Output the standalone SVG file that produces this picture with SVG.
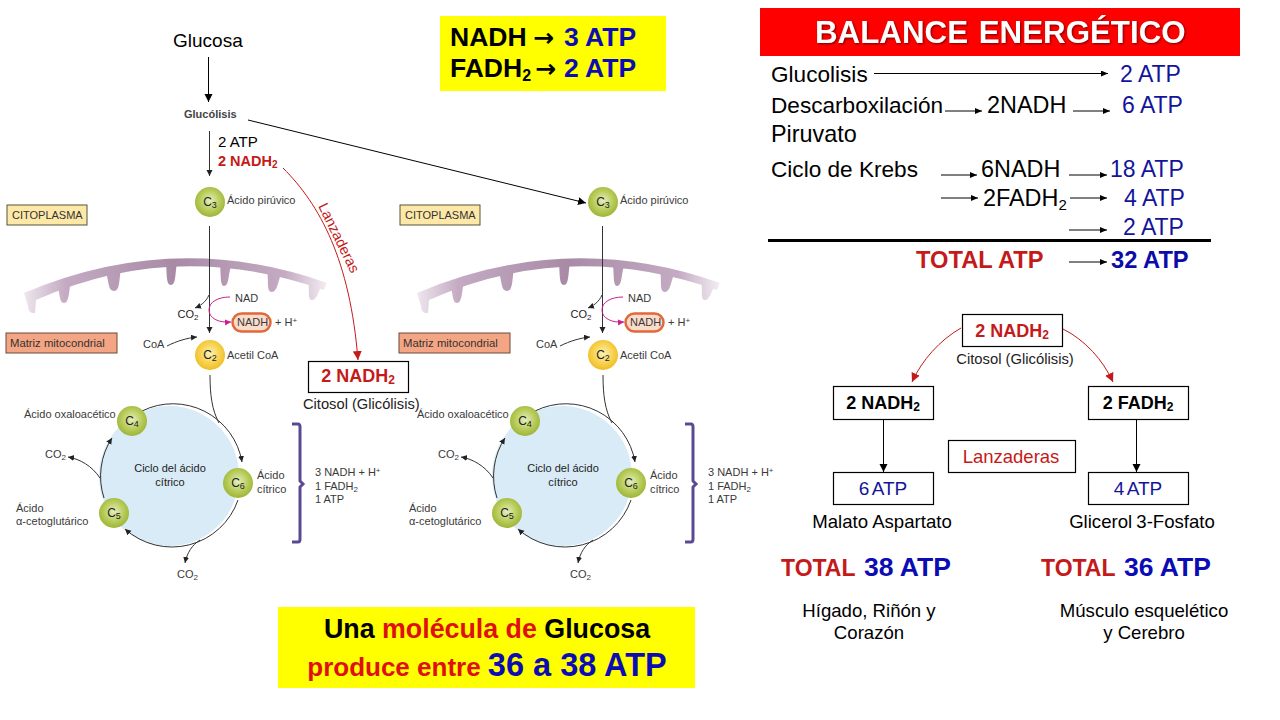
<svg xmlns="http://www.w3.org/2000/svg" width="1280" height="720" viewBox="0 0 1280 720">
<style>
text{font-family:"Liberation Sans",Arial,sans-serif;fill:#000}
.s{font-size:11px;fill:#3a3a3a}
.m{font-size:11px;fill:#333}
.mt{font-size:11.300px;fill:#333}
.c{font-size:11px;fill:#222;text-anchor:middle}
.n{font-size:12px;fill:#222;text-anchor:middle}
.row{font-size:22.600px}
.rw2{font-size:23.400px}
.atp{font-size:23px;fill:#14149a}
.ttl{font-size:23.700px;font-weight:bold}
.red{fill:#c41a1a}
.blue{fill:#0c0cb4}
.b{font-weight:bold}
.mid{text-anchor:middle}
.box{fill:#fff;stroke:#000;stroke-width:1.2}
.ln{fill:none;stroke:#000;stroke-width:1}
.thin{fill:none;stroke:#333;stroke-width:1}
.rd{fill:none;stroke:#c41a1a;stroke-width:1}
.a{marker-end:url(#ah)}
.k{marker-end:url(#ahk)}
.as{marker-end:url(#ahs)}
.ar{marker-end:url(#ahr)}
</style>
<defs>
<marker id="ah" markerUnits="userSpaceOnUse" markerWidth="10" markerHeight="10" refX="8" refY="4" orient="auto"><path d="M0,0 L8,4 L0,8 Z" fill="#000"/></marker>
<marker id="ahk" markerUnits="userSpaceOnUse" markerWidth="8" markerHeight="8" refX="7" refY="3" orient="auto"><path d="M0,0 L7,3 L0,6 Z" fill="#000"/></marker>
<marker id="ahs" markerUnits="userSpaceOnUse" markerWidth="8" markerHeight="8" refX="6" refY="3" orient="auto"><path d="M0,0 L6,3 L0,6 Z" fill="#222"/></marker>
<marker id="ahp" markerUnits="userSpaceOnUse" markerWidth="8" markerHeight="8" refX="6" refY="3" orient="auto"><path d="M0,0 L6,3 L0,6 Z" fill="#c8208c"/></marker>
<marker id="ahr" markerUnits="userSpaceOnUse" markerWidth="12" markerHeight="12" refX="9" refY="4.500" orient="auto"><path d="M0,0 L9,4.500 L0,9 Z" fill="#c41a1a"/></marker>
<radialGradient id="gGreen" cx="50%" cy="45%" r="55%"><stop offset="0" stop-color="#e6eec0"/><stop offset=".55" stop-color="#bccf62"/><stop offset="1" stop-color="#9db534"/></radialGradient>
<radialGradient id="gYellow" cx="50%" cy="45%" r="55%"><stop offset="0" stop-color="#fdf2b8"/><stop offset=".55" stop-color="#f8d558"/><stop offset="1" stop-color="#f0bd22"/></radialGradient>
<linearGradient id="gMem" gradientUnits="userSpaceOnUse" x1="22" y1="0" x2="328" y2="0"><stop offset="0" stop-color="#f0e9f0"/><stop offset=".14" stop-color="#c4abc3"/><stop offset=".5" stop-color="#a88aa6"/><stop offset=".86" stop-color="#c4abc3"/><stop offset="1" stop-color="#f4eff4"/></linearGradient>
<g id="membrane" fill="url(#gMem)">
<path d="M24,293 Q175,229 327,283 L324,290 Q175,238 36,300 L35,313 Q28,314 28,306 Z"/>
<path d="M57,284 C60,292 59,303 64,303 C69,303 69,292 71,279 Z"/>
<path d="M106,272 C109,282 108,291 114,291 C120,291 119,280 121,268 Z"/>
<path d="M166,264 C167,274 166,285 171,285 C176,285 175,274 177,263 Z"/>
<path d="M220,264 C221,274 220,286 224,286 C229,286 228,276 231,266 Z"/>
<path d="M267,270 C269,280 266,292 272,292 C277,292 278,282 281,274 Z"/>
<path d="M308,280 C310,290 307,300 312,300 C317,300 318,292 322,285 Z"/>
</g>
<!-- Mitochondrial panel artwork shared by both panels -->
<g id="panelArt">
<rect x="7" y="205" width="80" height="20" fill="#fde8a8" stroke="#55553a"/>
<rect x="6" y="333" width="111" height="20" fill="#f4a584" stroke="#6a4a3a"/>
<use href="#membrane"/>
<circle cx="169" cy="476" r="70" fill="#d8ebf6"/>
<path class="thin" d="M142,411 A70,70 0 0 1 242,462" style="marker-end:url(#ahs)"/>
<path class="thin" d="M238,500 A70,70 0 0 1 125,529" style="marker-end:url(#ahs)"/>
<path class="thin" d="M104,498 A70,70 0 0 1 112,438" style="marker-end:url(#ahs)"/>
<path class="thin" d="M210,375 C210,395 212,410 219,423"/>
<path class="thin as" d="M209.500,226 V333"/>
<path class="thin as" d="M209,295 C206,302 200,306 195,308"/>
<path class="thin as" d="M167,346 C177,341 187,338 197,337"/>
<path class="thin as" d="M100,478 C92,466 80,459 68,457"/>
<path class="thin as" d="M200,540 C192,545 187,553 185,563"/>
<path fill="none" stroke="#c8208c" stroke-width="1" marker-end="url(#ahp)" d="M230,297 C218,297 209,302 209,310 C209,318 218,323 231,322"/>
<rect x="232.500" y="313.500" width="38" height="18" rx="9" fill="#fbdccb" stroke="#e0683a" stroke-width="2.500"/>
<path fill="none" stroke="#5a4a94" stroke-width="3" d="M292,424 H298 Q300,424 300,427 V481 L303,484 L300,487 V539 Q300,542 298,542 H292"/>
<circle cx="210" cy="202" r="15" fill="url(#gGreen)"/>
<circle cx="210" cy="355" r="15" fill="url(#gYellow)"/>
<circle cx="132" cy="421" r="15" fill="url(#gGreen)"/>
<circle cx="238" cy="483" r="15" fill="url(#gGreen)"/>
<circle cx="114" cy="513" r="15" fill="url(#gGreen)"/>
</g>
</defs>
<rect width="1280" height="720" fill="#fff"/>

<g id="connectors">
<path class="ln a" d="M208.500,57 V102"/>
<path class="thin as" d="M209.500,131 V176"/>
<path class="ln a" d="M248,120 L586,203"/>
<path class="rd ar" d="M283,168 C320,205 350,260 358,360"/>
<path class="ln k" d="M874,73.500 H1108"/>
<path class="ln k" d="M945,111 H982"/>
<path class="ln k" d="M1073,111 H1110"/>
<path class="ln k" d="M941,175 H977"/>
<path class="ln k" d="M1069,175 H1107"/>
<path class="ln k" d="M941,198 H978"/>
<path class="ln k" d="M1070,198 H1107"/>
<path class="ln k" d="M1069,230 H1107"/>
<path class="ln k" d="M1069,262 H1107"/>
<path class="rd ar" d="M961,328 C940,340 922,360 912,382"/>
<path class="rd ar" d="M1063,329 C1085,340 1103,360 1113,382"/>
<path class="ln a" d="M883.500,419 V472"/>
<path class="ln a" d="M1136.500,419 V472"/>
</g>

<g id="glucosa"><text x="173" y="47" font-size="19">Glucosa</text></g>
<g id="glucolisis"><text x="184" y="118" font-size="11" font-weight="bold" style="fill:#444">Glucólisis</text></g>
<g id="rendimiento-glucolisis">
<text x="218" y="147" font-size="15">2 ATP</text>
<text x="218" y="166" font-size="14.500" class="b red">2 NADH<tspan font-size="10" dy="2">2</tspan></text>
</g>
<g id="lanzaderas-curva"><text transform="translate(318,206) rotate(64)" font-size="14.500" class="red">Lanzaderas</text></g>

<g id="panel-1">
<use href="#panelArt"/>
<text class="m" x="12" y="219">CITOPLASMA</text>
<text class="mt" x="10" y="347">Matriz mitocondrial</text>
<text class="n" x="210" y="206">C<tspan font-size="9" dy="2">3</tspan></text>
<text class="s" x="227" y="204">Ácido pirúvico</text>
<text class="c" x="188" y="318">CO<tspan font-size="8" dy="2">2</tspan></text>
<text class="s" x="235" y="302">NAD</text>
<text class="s" x="237" y="326">NADH</text>
<text class="s" x="275" y="326">+ H<tspan font-size="8" dy="-3">+</tspan></text>
<text class="s" x="143" y="348">CoA</text>
<text class="n" x="210" y="359">C<tspan font-size="9" dy="2">2</tspan></text>
<text class="s" x="227" y="359">Acetil CoA</text>
<text class="s" x="24" y="418">Ácido oxaloacético</text>
<text class="n" x="132" y="425">C<tspan font-size="9" dy="2">4</tspan></text>
<text class="n" x="238" y="487">C<tspan font-size="9" dy="2">6</tspan></text>
<text class="n" x="114" y="517">C<tspan font-size="9" dy="2">5</tspan></text>
<text class="c" x="170" y="472">Ciclo del ácido</text>
<text class="c" x="170" y="486">cítrico</text>
<text class="s" x="257" y="479">Ácido</text>
<text class="s" x="257" y="493">cítrico</text>
<text class="s" x="16" y="512">Ácido</text>
<text class="s" x="16" y="525">α-cetoglutárico</text>
<text class="s" x="45" y="458">CO<tspan font-size="8" dy="2">2</tspan></text>
<text class="s" x="177" y="578">CO<tspan font-size="8" dy="2">2</tspan></text>
<text class="s" x="315" y="476">3 NADH + H<tspan font-size="8" dy="-3">+</tspan></text>
<text class="s" x="315" y="490">1 FADH<tspan font-size="8" dy="2">2</tspan></text>
<text class="s" x="315" y="503">1 ATP</text>
</g>

<g id="panel-2" transform="translate(393,0)">
<use href="#panelArt"/>
<text class="m" x="12" y="219">CITOPLASMA</text>
<text class="mt" x="10" y="347">Matriz mitocondrial</text>
<text class="n" x="210" y="206">C<tspan font-size="9" dy="2">3</tspan></text>
<text class="s" x="227" y="204">Ácido pirúvico</text>
<text class="c" x="188" y="318">CO<tspan font-size="8" dy="2">2</tspan></text>
<text class="s" x="235" y="302">NAD</text>
<text class="s" x="237" y="326">NADH</text>
<text class="s" x="275" y="326">+ H<tspan font-size="8" dy="-3">+</tspan></text>
<text class="s" x="143" y="348">CoA</text>
<text class="n" x="210" y="359">C<tspan font-size="9" dy="2">2</tspan></text>
<text class="s" x="227" y="359">Acetil CoA</text>
<text class="s" x="24" y="418">Ácido oxaloacético</text>
<text class="n" x="132" y="425">C<tspan font-size="9" dy="2">4</tspan></text>
<text class="n" x="238" y="487">C<tspan font-size="9" dy="2">6</tspan></text>
<text class="n" x="114" y="517">C<tspan font-size="9" dy="2">5</tspan></text>
<text class="c" x="170" y="472">Ciclo del ácido</text>
<text class="c" x="170" y="486">cítrico</text>
<text class="s" x="257" y="479">Ácido</text>
<text class="s" x="257" y="493">cítrico</text>
<text class="s" x="16" y="512">Ácido</text>
<text class="s" x="16" y="525">α-cetoglutárico</text>
<text class="s" x="45" y="458">CO<tspan font-size="8" dy="2">2</tspan></text>
<text class="s" x="177" y="578">CO<tspan font-size="8" dy="2">2</tspan></text>
<text class="s" x="315" y="476">3 NADH + H<tspan font-size="8" dy="-3">+</tspan></text>
<text class="s" x="315" y="490">1 FADH<tspan font-size="8" dy="2">2</tspan></text>
<text class="s" x="315" y="503">1 ATP</text>
</g>

<g id="citosol-caja">
<rect class="box" x="308.500" y="361.500" width="100" height="31"/>
<text x="358" y="382" font-size="18" class="b red mid">2 NADH<tspan font-size="12" dy="2">2</tspan></text>
<text x="303" y="409" font-size="14.700" style="fill:#222">Citosol (Glicólisis)</text>
</g>

<g id="equivalencias">
<rect x="440" y="16" width="226" height="75" fill="#ffff00"/>
<text x="450" y="46" font-size="26.500" class="b">NADH<tspan x="533" style="font-family:'DejaVu Sans',sans-serif" font-size="25">→</tspan><tspan x="564" class="blue">3 ATP</tspan></text>
<text x="450" y="77" font-size="26.500" class="b">FADH<tspan font-size="16" dy="4">2</tspan><tspan dy="-4" x="535" style="font-family:'DejaVu Sans',sans-serif" font-size="25">→</tspan><tspan x="564" class="blue">2 ATP</tspan></text>
</g>

<g id="resumen">
<rect x="278" y="607" width="417" height="81" fill="#ffff00"/>
<text x="487" y="638" font-size="26.800" class="b mid">Una <tspan class="red" style="fill:#e01010">molécula de</tspan> Glucosa</text>
<text x="487" y="676" font-size="26" class="b mid red" style="fill:#e01010">produce entre <tspan font-size="32.500" class="blue">36 a 38 ATP</tspan></text>
</g>

<g id="balance-titulo">
<rect x="760" y="8" width="480" height="48" fill="#ff0000"/>
<text x="815" y="43" font-size="31.300" font-weight="bold" word-spacing="2" style="fill:#fff;filter:drop-shadow(1.5px 1.5px 1px rgba(90,0,0,.8))">BALANCE ENERGÉTICO</text>
</g>

<g id="balance-filas">
<text class="row" x="771" y="82">Glucolisis</text>
<text class="atp" x="1120" y="82">2 ATP</text>
<text class="row" x="771" y="113">Descarboxilación</text>
<text class="rw2" x="987" y="113">2NADH</text>
<text class="atp" x="1122" y="113">6 ATP</text>
<text class="rw2" x="771" y="142">Piruvato</text>
<text class="row" x="771" y="177">Ciclo de Krebs</text>
<text class="rw2" x="981" y="177">6NADH</text>
<text class="atp" x="1110" y="177">18 ATP</text>
<text class="rw2" x="983" y="206">2FADH<tspan font-size="15" dy="4">2</tspan></text>
<text class="atp" x="1124" y="206">4 ATP</text>
<text class="atp" x="1123" y="235">2 ATP</text>
<rect x="768" y="239" width="443" height="3" fill="#000"/>
<text class="ttl red" x="916" y="268">TOTAL ATP</text>
<text class="ttl" x="1111" y="268" style="fill:#0c0ca8">32 ATP</text>
</g>

<g id="nadh-citosol">
<rect class="box" x="962.500" y="314.500" width="100" height="32"/>
<text x="1012" y="337" font-size="18" class="b red mid">2 NADH<tspan font-size="12" dy="2">2</tspan></text>
<text x="1015" y="364" font-size="14.800" class="mid" style="fill:#222">Citosol (Glicólisis)</text>
</g>
<g id="nadh-malato">
<rect class="box" x="833.500" y="386.500" width="100" height="33"/>
<text x="883" y="409" font-size="18" class="b mid">2 NADH<tspan font-size="12" dy="2">2</tspan></text>
</g>
<g id="fadh-glicerol">
<rect class="box" x="1088.500" y="386.500" width="100" height="33"/>
<text x="1138" y="409" font-size="18" class="b mid">2 FADH<tspan font-size="12" dy="2">2</tspan></text>
</g>
<g id="lanzaderas">
<rect class="box" x="948.500" y="440.500" width="127" height="32"/>
<text x="1011" y="463" font-size="18.500" class="red mid">Lanzaderas</text>
</g>
<g id="atp-6">
<rect class="box" x="833.500" y="472.500" width="100" height="32"/>
<text x="883" y="495" font-size="19" class="mid" style="fill:#14149a" word-spacing="-2">6 ATP</text>
<text x="882" y="528" font-size="18.600" class="mid">Malato Aspartato</text>
</g>
<g id="atp-4">
<rect class="box" x="1088.500" y="472.500" width="100" height="32"/>
<text x="1138" y="495" font-size="19" class="mid" style="fill:#14149a" word-spacing="-2">4 ATP</text>
<text x="1142" y="528" font-size="18.600" class="mid" word-spacing="-1">Glicerol 3-Fosfato</text>
</g>
<g id="total-38">
<text x="781" y="576" font-size="23" class="b red">TOTAL <tspan x="864" font-size="26.500" class="blue">38 ATP</tspan></text>
<text x="869" y="617" font-size="18.600" class="mid">Hígado, Riñón y</text>
<text x="869" y="639" font-size="18.600" class="mid">Corazón</text>
</g>
<g id="total-36">
<text x="1041" y="576" font-size="23" class="b red">TOTAL <tspan x="1124" font-size="26.500" class="blue">36 ATP</tspan></text>
<text x="1144" y="617" font-size="18.600" class="mid">Músculo esquelético</text>
<text x="1144" y="639" font-size="18.600" class="mid">y Cerebro</text>
</g>
</svg>
